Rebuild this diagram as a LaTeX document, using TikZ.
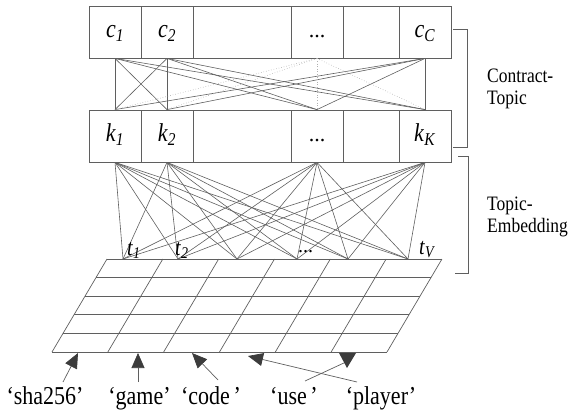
\documentclass[tikz,border=0pt]{standalone}
\usepackage{fontspec}
\setmainfont{Liberation Serif}
\usepackage{xcolor}
\usepackage{graphicx}
\usetikzlibrary{arrows.meta}
\definecolor{linegray}{RGB}{95,95,95}
\definecolor{dotgray}{RGB}{175,175,175}
\definecolor{headgray}{RGB}{60,60,60}
\def\cellfont{\fontsize{22}{24}\selectfont}
\def\sidefont{\fontsize{17.5}{22}\selectfont}
\def\wordfont{\fontsize{22}{24}\selectfont}
\def\tall#1{\scalebox{1}[1.17]{#1}}
\def\sub#1#2{\tall{\textit{#1}\textsubscript{\textit{#2}}}}

\begin{document}
\begin{tikzpicture}[x=1pt,y=-1pt,
    cell/.style={draw=linegray, line width=0.8pt, minimum height=52pt, inner sep=0pt,
      text height=16pt, text depth=4pt, font=\cellfont},
    link/.style={draw=linegray, line width=0.6pt},
    dotlink/.style={draw=dotgray, dotted, line width=0.6pt},
    tlabel/.style={anchor=base west, inner sep=0pt, font=\fontsize{20}{22}\selectfont},
    word/.style={anchor=base, inner sep=0pt, font=\wordfont},
    side/.style={anchor=base west, inner sep=0pt, font=\sidefont},
    pointer/.style={draw=linegray, line width=0.7pt,
      -{Triangle[length=15pt,width=13pt,fill=headgray,color=headgray]}}]
    \useasboundingbox (0,0) rectangle (572,414);
    % contracts
    \node[cell, minimum width=52pt] (c1) at (115,32) {\sub{c}{1}};
    \node[cell, minimum width=52pt] (c2) at (167,32) {\sub{c}{2}};
    \node[cell, minimum width=98pt] (ce1) at (242,32) {};
    \node[cell, minimum width=52pt] (cd) at (317,32) {...};
    \node[cell, minimum width=56pt] (ce2) at (371,32) {};
    \node[cell, minimum width=52pt] (cC) at (425,32) {\sub{c}{C}};
    % topics
    \node[cell, minimum width=52pt] (k1) at (115,136) {\sub{k}{1}};
    \node[cell, minimum width=52pt] (k2) at (167,136) {\sub{k}{2}};
    \node[cell, minimum width=98pt] (ke1) at (242,136) {};
    \node[cell, minimum width=52pt] (kd) at (317,136) {...};
    \node[cell, minimum width=56pt] (ke2) at (371,136) {};
    \node[cell, minimum width=52pt] (kK) at (425,136) {\sub{k}{K}};
    % contract-topic links
    \foreach \c in {c1,c2,cC}
      \foreach \k in {k1,k2,kd,kK}
        \draw[link] (\c.south) -- (\k.north);
    \foreach \k in {k1,k2,kd,kK}
      \draw[dotlink] (cd.south) -- (\k.north);
    % embedding plane
    \foreach \r in {0,...,5}
      \draw[draw=linegray, line width=0.7pt] (107-11*\r,259+18.6*\r) -- (442-11*\r,259+18.6*\r);
    \foreach \c in {0,...,6}
      \draw[draw=linegray, line width=0.7pt] (107+55.83*\c,259) -- (52+55.83*\c,352);
    % terms
    \coordinate (tp1) at (123,259);
    \coordinate (tp2) at (178,259);
    \coordinate (tp3) at (237,259);
    \coordinate (tp4) at (297,259);
    \coordinate (tp5) at (348,259);
    \coordinate (tp6) at (408,259);
    \foreach \k in {k1,k2,kd,kK}
      \foreach \t in {1,...,6}
        \draw[link] (\k.south) -- (tp\t);
    \node[tlabel] (t1) at (127,255) {\sub{t}{1}};
    \node[tlabel] (t2) at (175,255) {\sub{t}{2}};
    \node[tlabel] (td) at (298,252) {...};
    \node[tlabel] (tV) at (419,254) {\sub{t}{V}};
    % brackets
    \draw[draw=linegray, line width=0.8pt] (453,29) -- (467,29) -- (467,147) -- (453,147);
    \draw[draw=linegray, line width=0.8pt] (458,156) -- (468,156) -- (468,273) -- (455,273);
    \node[side] (ct1) at (487,83) {\tall{Contract-}};
    \node[side] (ct2) at (487,105) {\tall{Topic}};
    \node[side] (te1) at (487,210) {\tall{Topic-}};
    \node[side] (te2) at (487,232) {\tall{Embedding}};
    % words
    \node[word] (wsha) at (45,404) {\tall{‘sha256’}};
    \node[word] (wgame) at (139.5,404) {\tall{‘game’}};
    \node[word] (wcode) at (211,404) {\tall{‘code\,’}};
    \node[word] (wuse) at (294,404) {\tall{‘use\,’}};
    \node[word] (wplayer) at (381,404) {\tall{‘player’}};
    \coordinate (a1) at (63,382);  \coordinate (h1) at (78,353);
    \coordinate (a2) at (138,382); \coordinate (h2) at (138,353);
    \coordinate (a3) at (218,380); \coordinate (h3) at (192,353);
    \coordinate (a4) at (357,382); \coordinate (h4) at (248,356);
    \coordinate (a5) at (305,381); \coordinate (h5) at (346,362);
    \draw[pointer] (a1) -- (h1);
    \draw[pointer] (a2) -- (h2);
    \draw[pointer] (a3) -- (h3);
    \draw[pointer] (a4) -- (h4);
    \draw[draw=linegray, line width=0.7pt] (a5) -- (h5);
    \fill[headgray] (339,353) -- (356,353) -- (347,368) -- cycle;
\end{tikzpicture}
\end{document}
